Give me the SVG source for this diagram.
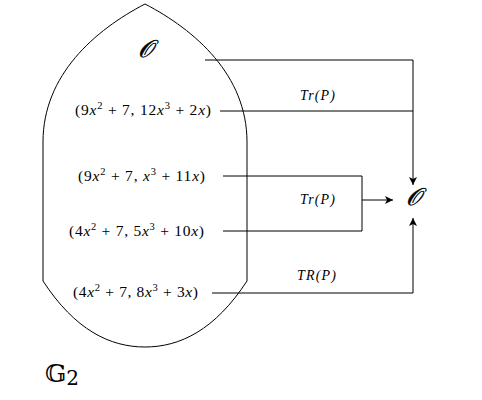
<svg xmlns="http://www.w3.org/2000/svg" width="482" height="400" viewBox="0 0 482 400">
<style>
.m{font-family:"Liberation Serif","DejaVu Serif",serif;font-size:15.5px;fill:#000}
.i{font-style:italic}
.s{font-size:10.5px}
.l{font-family:"Liberation Serif","DejaVu Serif",serif;font-size:14px;font-style:italic;fill:#000}
.o{font-family:"DejaVu Serif",serif;font-style:italic;font-size:24px;fill:#000;stroke:#000;stroke-width:0.5}
.c{fill:none;stroke:#000;stroke-width:1}
</style>
<defs>
<marker id="a" viewBox="0 0 10 10" refX="10" refY="5" markerWidth="8" markerHeight="8" markerUnits="userSpaceOnUse" orient="auto">
<path d="M0,0 L10,5 L0,10 L2.5,5 Z" fill="#000"/>
</marker>
</defs>
<rect width="482" height="400" fill="#fff"/>
<g id="G2">
<path class="c" d="M145,4 C95,30 43,75 43,142 L43,281 C75,330 110,347 145,347 C180,347 215,330 247,281 L247,142 C247,75 195,30 145,4 Z"/>
<text x="45" y="382" font-family="DejaVu Serif,serif" font-size="25">𝔾<tspan font-size="20" dy="3">2</tspan></text>
</g>
<g id="O1"><text class="o" x="145" y="57" text-anchor="middle">𝒪</text></g>
<g id="p1"><text class="m" x="75" y="115" textLength="136" lengthAdjust="spacing">(9<tspan class="i">x</tspan><tspan dy="-6" class="s">2</tspan><tspan dy="6"> + 7, 12</tspan><tspan class="i">x</tspan><tspan dy="-6" class="s">3</tspan><tspan dy="6"> + 2</tspan><tspan class="i">x</tspan>)</text></g>
<g id="p2"><text class="m" x="78" y="181" textLength="127" lengthAdjust="spacing">(9<tspan class="i">x</tspan><tspan dy="-6" class="s">2</tspan><tspan dy="6"> + 7, </tspan><tspan class="i">x</tspan><tspan dy="-6" class="s">3</tspan><tspan dy="6"> + 11</tspan><tspan class="i">x</tspan>)</text></g>
<g id="p3"><text class="m" x="69" y="236" textLength="135" lengthAdjust="spacing">(4<tspan class="i">x</tspan><tspan dy="-6" class="s">2</tspan><tspan dy="6"> + 7, 5</tspan><tspan class="i">x</tspan><tspan dy="-6" class="s">3</tspan><tspan dy="6"> + 10</tspan><tspan class="i">x</tspan>)</text></g>
<g id="p4"><text class="m" x="73" y="297" textLength="125" lengthAdjust="spacing">(4<tspan class="i">x</tspan><tspan dy="-6" class="s">2</tspan><tspan dy="6"> + 7, 8</tspan><tspan class="i">x</tspan><tspan dy="-6" class="s">3</tspan><tspan dy="6"> + 3</tspan><tspan class="i">x</tspan>)</text></g>
<g id="O2"><text class="o" x="413" y="205" text-anchor="middle">𝒪</text></g>
<g id="connectors">
<path class="c" d="M205,60 H413 V185" marker-end="url(#a)"/>
<path class="c" d="M220,111 H413"/>
<path class="c" d="M223,176 H362 V231 H223"/>
<path class="c" d="M362,200 H393" marker-end="url(#a)"/>
<path class="c" d="M212,293 H413 V218" marker-end="url(#a)"/>
<text class="l" x="300" y="100" textLength="35" lengthAdjust="spacing">Tr(P)</text>
<text class="l" x="300" y="204" textLength="35" lengthAdjust="spacing">Tr(P)</text>
<text class="l" x="297" y="280" textLength="39" lengthAdjust="spacing">TR(P)</text>
</g>
</svg>
